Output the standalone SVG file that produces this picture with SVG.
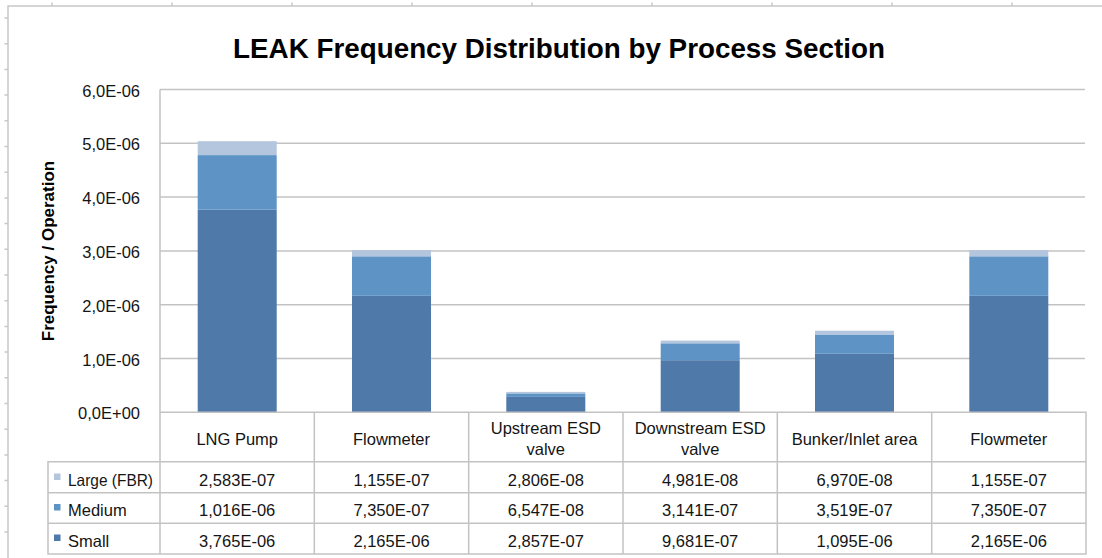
<svg xmlns="http://www.w3.org/2000/svg" width="1102" height="558" viewBox="0 0 1102 558">
  <style>
    text { font-family: "Liberation Sans", Arial, sans-serif; fill: #141414; }
    .title { font-size: 27.8px; font-weight: bold; text-anchor: middle; fill: #000; }
    .ytitle { font-size: 17px; font-weight: bold; text-anchor: middle; fill: #000; }
    .tick { font-size: 16.5px; text-anchor: end; }
    .cell { font-size: 16.5px; text-anchor: middle; }
    .legend { font-size: 16.5px; }
    .frame { stroke: #c8c8c8; stroke-width: 1.5; fill: none; }
    .grid { stroke: #c3c3c3; stroke-width: 1.5; fill: none; }
    .tbl { stroke: #c3c3c3; stroke-width: 1.5; fill: none; }
    .small { fill: #4e79a8; }
    .medium { fill: #5e93c6; }
    .large { fill: #b4c5de; }
  </style>

  <rect width="1102" height="558" fill="#ffffff"/>

  <!-- sheet edge with ruler ticks -->
  <g id="sheet-frame" class="frame">
    <path d="M8 558 V6 H1102"/>
    <path d="M52 2.5 V6 M172 2.5 V6 M292 2.5 V6 M412 2.5 V6 M532 2.5 V6 M652 2.5 V6 M772 2.5 V6 M892 2.5 V6 M1012 2.5 V6"/>
    <path d="M4.5 18 H8 M4.5 43.7 H8 M4.5 69.4 H8 M4.5 95.1 H8 M4.5 120.8 H8 M4.5 146.5 H8 M4.5 172.2 H8 M4.5 197.9 H8 M4.5 223.6 H8 M4.5 249.3 H8 M4.5 275 H8 M4.5 300.7 H8 M4.5 326.4 H8 M4.5 352.1 H8 M4.5 377.8 H8 M4.5 403.5 H8 M4.5 429.2 H8 M4.5 454.9 H8 M4.5 480.6 H8 M4.5 506.3 H8 M4.5 532 H8"/>
  </g>

  <text id="chart-title" class="title" x="559" y="58">LEAK Frequency Distribution by Process Section</text>

  <text id="axis-title" class="ytitle" transform="translate(54,251) rotate(-90)">Frequency / Operation</text>

  <!-- value gridlines, one per 1,0E-06 -->
  <g id="gridlines" class="grid">
    <path d="M160 89.5 H1085 M160 143.3 H1085 M160 197.1 H1085 M160 250.9 H1085 M160 304.7 H1085 M160 358.5 H1085"/>
  </g>

  <g id="axis-labels">
    <text class="tick" x="140" y="96.5">6,0E-06</text>
    <text class="tick" x="140" y="150.3">5,0E-06</text>
    <text class="tick" x="140" y="204.1">4,0E-06</text>
    <text class="tick" x="140" y="257.9">3,0E-06</text>
    <text class="tick" x="140" y="311.7">2,0E-06</text>
    <text class="tick" x="140" y="365.5">1,0E-06</text>
    <text class="tick" x="140" y="419.3">0,0E+00</text>
  </g>

  <!-- stacked bars: small at the base, medium above, large on top -->
  <g id="bar-lng-pump">
    <rect class="small" x="197.7" y="209.7" width="79" height="202.6"/>
    <rect class="medium" x="197.7" y="155.1" width="79" height="54.6"/>
    <rect class="large" x="197.7" y="141.2" width="79" height="13.9"/>
  </g>
  <g id="bar-flowmeter-1">
    <rect class="small" x="352" y="295.8" width="79" height="116.5"/>
    <rect class="medium" x="352" y="256.3" width="79" height="39.5"/>
    <rect class="large" x="352" y="250.1" width="79" height="6.2"/>
  </g>
  <g id="bar-upstream-esd">
    <rect class="small" x="506.3" y="396.9" width="79" height="15.4"/>
    <rect class="medium" x="506.3" y="393.4" width="79" height="3.5"/>
    <rect class="large" x="506.3" y="391.9" width="79" height="1.5"/>
  </g>
  <g id="bar-downstream-esd">
    <rect class="small" x="660.7" y="360.2" width="79" height="52.1"/>
    <rect class="medium" x="660.7" y="343.3" width="79" height="16.9"/>
    <rect class="large" x="660.7" y="340.6" width="79" height="2.7"/>
  </g>
  <g id="bar-bunker-inlet">
    <rect class="small" x="815" y="353.4" width="79" height="58.9"/>
    <rect class="medium" x="815" y="334.5" width="79" height="18.9"/>
    <rect class="large" x="815" y="330.7" width="79" height="3.8"/>
  </g>
  <g id="bar-flowmeter-2">
    <rect class="small" x="969.3" y="295.8" width="79" height="116.5"/>
    <rect class="medium" x="969.3" y="256.3" width="79" height="39.5"/>
    <rect class="large" x="969.3" y="250.1" width="79" height="6.2"/>
  </g>

  <!-- axis line and data table rules -->
  <g id="table-grid" class="tbl">
    <path d="M160 89.5 V554"/>
    <path d="M160 412.3 H1086 V554 H48 V461.7 H1086"/>
    <path d="M48 492.7 H1086 M48 523.3 H1086"/>
    <path d="M314.3 412.3 V554 M468.7 412.3 V554 M623 412.3 V554 M777.3 412.3 V554 M931.7 412.3 V554"/>
  </g>

  <g id="table-header">
    <text class="cell" x="237.2" y="445">LNG Pump</text>
    <text class="cell" x="391.5" y="445">Flowmeter</text>
    <text class="cell" x="545.8" y="434">Upstream ESD</text>
    <text class="cell" x="545.8" y="455">valve</text>
    <text class="cell" x="700.2" y="434">Downstream ESD</text>
    <text class="cell" x="700.2" y="455">valve</text>
    <text class="cell" x="854.5" y="445">Bunker/Inlet area</text>
    <text class="cell" x="1008.8" y="445">Flowmeter</text>
  </g>

  <g id="legend">
    <rect class="large" x="54" y="473.5" width="6.5" height="6.5"/>
    <text class="legend" x="68" y="485.5" textLength="85" lengthAdjust="spacingAndGlyphs">Large (FBR)</text>
    <rect class="medium" x="54" y="504" width="6.5" height="6.5"/>
    <text class="legend" x="68" y="516">Medium</text>
    <rect class="small" x="54" y="534.5" width="6.5" height="6.5"/>
    <text class="legend" x="68" y="546.5">Small</text>
  </g>

  <g id="row-large">
    <text class="cell" x="237.2" y="485.5">2,583E-07</text>
    <text class="cell" x="391.5" y="485.5">1,155E-07</text>
    <text class="cell" x="545.8" y="485.5">2,806E-08</text>
    <text class="cell" x="700.2" y="485.5">4,981E-08</text>
    <text class="cell" x="854.5" y="485.5">6,970E-08</text>
    <text class="cell" x="1008.8" y="485.5">1,155E-07</text>
  </g>
  <g id="row-medium">
    <text class="cell" x="237.2" y="516">1,016E-06</text>
    <text class="cell" x="391.5" y="516">7,350E-07</text>
    <text class="cell" x="545.8" y="516">6,547E-08</text>
    <text class="cell" x="700.2" y="516">3,141E-07</text>
    <text class="cell" x="854.5" y="516">3,519E-07</text>
    <text class="cell" x="1008.8" y="516">7,350E-07</text>
  </g>
  <g id="row-small">
    <text class="cell" x="237.2" y="546.5">3,765E-06</text>
    <text class="cell" x="391.5" y="546.5">2,165E-06</text>
    <text class="cell" x="545.8" y="546.5">2,857E-07</text>
    <text class="cell" x="700.2" y="546.5">9,681E-07</text>
    <text class="cell" x="854.5" y="546.5">1,095E-06</text>
    <text class="cell" x="1008.8" y="546.5">2,165E-06</text>
  </g>
</svg>
